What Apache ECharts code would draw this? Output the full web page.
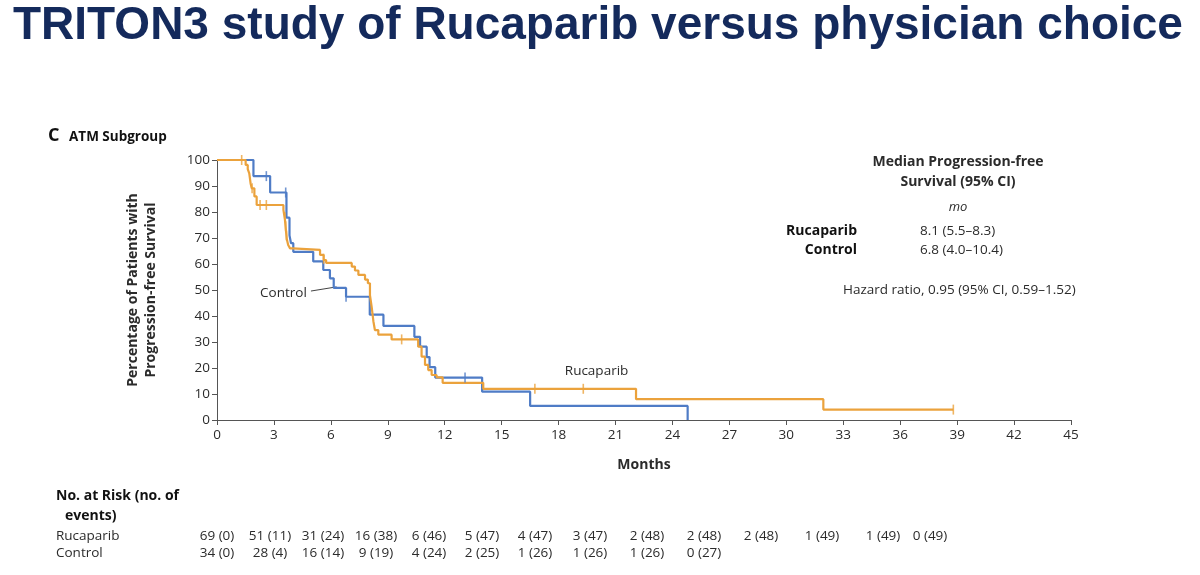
<!DOCTYPE html>
<html>
<head>
<meta charset="utf-8">
<script src="https://cdn.jsdelivr.net/npm/echarts@6/dist/echarts.min.js"></script>
<style>
    html, body { margin: 0; padding: 0; background: #fff; }
    #chart { width: 1200px; height: 575px; }
</style>
</head>
<body>
<div id="chart"></div>
<script>
// Kaplan-Meier steps: [months, % progression-free after the step]
const rucaparibSteps = [
    [0, 100], [1.51, 98.1], [1.62, 96.5], [1.7, 94.9], [1.77, 91], [1.83, 89.1], [1.97, 86], [2.09, 82.7],
    [3.5, 80.8], [3.58, 77], [3.63, 73], [3.68, 69.5], [3.75, 67.3], [3.85, 66], [4.0, 65.4],
    [5.43, 63.5], [5.62, 61.5], [5.75, 60.4], [7.1, 59], [7.27, 57.5], [7.45, 55.8], [7.8, 54],
    [7.95, 52.6], [8.06, 48], [8.15, 43.5], [8.24, 38], [8.32, 34.6], [8.5, 32.8], [9.2, 31],
    [10.6, 28.2], [10.78, 24.4], [10.96, 21.2], [11.13, 19.2], [11.31, 17.3], [11.57, 16.4],
    [11.89, 14.3], [14.03, 12], [22.08, 8], [31.95, 4], [38.8, 4]
];
const controlSteps = [
    [0, 100], [1.92, 93.8], [2.8, 87.5], [3.66, 77.8], [3.82, 71], [3.9, 68], [4.02, 64.7],
    [5.07, 61], [5.6, 57.7], [5.95, 54.5], [6.15, 50.8], [6.8, 47.4], [8.05, 40.5], [8.77, 36.2],
    [10.4, 32], [10.7, 28.2], [11.05, 24.2], [11.2, 20.3], [11.5, 16.3], [13.97, 10.9],
    [16.5, 5.4], [24.8, 0]
];
const rucaparibCensored = [
    [1.3, 100], [1.85, 89.1], [2.27, 82.7], [2.6, 82.7], [3.58, 78], [3.62, 74.5], [3.66, 71],
    [5.62, 62], [9.73, 31], [16.75, 12], [19.3, 12], [38.8, 4]
];
const controlCensored = [[2.6, 93.8], [3.62, 87.5], [6.8, 47.4], [13.07, 16.3]];

const riskRucaparib = ['69 (0)', '51 (11)', '31 (24)', '16 (38)', '6 (46)', '5 (47)', '4 (47)',
    '3 (47)', '2 (48)', '2 (48)', '2 (48)', '1 (49)', '1 (49)', '0 (49)'];
const riskControl = ['34 (0)', '28 (4)', '16 (14)', '9 (19)', '4 (24)', '2 (25)', '1 (26)',
    '1 (26)', '1 (26)', '0 (27)'];

const medianRows = [['Rucaparib', '8.1 (5.5\u20138.3)'], ['Control', '6.8 (4.0\u201310.4)']];
const hazardText = 'Hazard ratio, 0.95 (95% CI, 0.59\u20131.52)';

const ORANGE = '#EBA23C';
const BLUE = '#4F7CC6';
const FONT = 'Open Sans';
const TXT = '#2b2b2b';

// column centres of the at-risk table (they don't line up with the axis ticks)
const riskColX = [217, 270, 323, 376, 429, 482, 535, 590, 647, 704, 761, 822, 883, 930];

let chart = echarts.init(document.getElementById('chart'));

let graphics = [
    {
        type: 'text', left: 13, top: 3,
        style: { text: 'TRITON3 study of Rucaparib versus physician choice', fill: '#142a5c',
            font: 'bold 46px "Liberation Sans", Arial, sans-serif' }
    },
    { type: 'text', x: 48, y: 127, style: { text: 'C', fill: '#111', font: 'bold 18px "' + FONT + '"' } },
    { type: 'text', x: 69, y: 130, style: { text: 'ATM Subgroup', fill: '#111', font: 'bold 13.5px "' + FONT + '"' } },
    {
        type: 'text', x: 142, y: 290, rotation: Math.PI / 2,
        style: { text: 'Percentage of Patients with\nProgression-free Survival', fill: TXT, align: 'center',
            verticalAlign: 'middle', lineHeight: 18, font: 'bold 14px "' + FONT + '"' }
    },
    {
        type: 'text', x: 958, y: 172,
        style: { text: 'Median Progression-free\nSurvival (95% CI)', fill: TXT, align: 'center',
            verticalAlign: 'middle', lineHeight: 20, font: 'bold 14px "' + FONT + '"' }
    },
    { type: 'text', x: 958, y: 207, style: { text: 'mo', fill: TXT, align: 'center', verticalAlign: 'middle', font: 'italic 13px "' + FONT + '"' } },
    {
        type: 'text', x: 843, y: 290,
        style: { text: hazardText, fill: TXT, verticalAlign: 'middle', font: '13.5px "' + FONT + '"' }
    },
    { type: 'text', x: 56, y: 496, style: { text: 'No. at Risk (no. of', fill: '#111', verticalAlign: 'middle', font: 'bold 14px "' + FONT + '"' } },
    { type: 'text', x: 65, y: 516, style: { text: 'events)', fill: '#111', verticalAlign: 'middle', font: 'bold 14px "' + FONT + '"' } },
    { type: 'text', x: 56, y: 536, style: { text: 'Rucaparib', fill: TXT, verticalAlign: 'middle', font: '13.5px "' + FONT + '"' } },
    { type: 'text', x: 56, y: 553, style: { text: 'Control', fill: TXT, verticalAlign: 'middle', font: '13.5px "' + FONT + '"' } }
];

medianRows.forEach(function (row, i) {
    graphics.push({ type: 'text', x: 857, y: 231 + i * 19,
        style: { text: row[0], fill: '#111', align: 'right', verticalAlign: 'middle', font: 'bold 14px "' + FONT + '"' } });
    graphics.push({ type: 'text', x: 920, y: 231 + i * 19,
        style: { text: row[1], fill: TXT, verticalAlign: 'middle', font: '13.5px "' + FONT + '"' } });
});

[riskRucaparib, riskControl].forEach(function (row, r) {
    row.forEach(function (val, i) {
        graphics.push({ type: 'text', x: riskColX[i], y: 536 + r * 17,
            style: { text: val, fill: TXT, align: 'center', verticalAlign: 'middle', font: '13.5px "' + FONT + '"' } });
    });
});

let option = {
    animation: false,
    backgroundColor: '#fff',
    textStyle: { fontFamily: FONT },
    grid: { left: 217, right: 129, top: 160, bottom: 155 },
    xAxis: {
        type: 'value', min: 0, max: 45, interval: 3,
        name: 'Months', nameLocation: 'middle', nameGap: 38,
        nameTextStyle: { fontWeight: 'bold', fontSize: 14, color: TXT, fontFamily: FONT },
        axisLine: { lineStyle: { color: '#555', width: 1 } },
        axisTick: { length: 5, lineStyle: { color: '#555' } },
        axisLabel: { fontSize: 13.5, color: TXT, margin: 8, fontFamily: FONT },
        splitLine: { show: false }
    },
    yAxis: {
        type: 'value', min: 0, max: 100, interval: 10,
        axisLine: { show: true, lineStyle: { color: '#555', width: 1 } },
        axisTick: { show: true, length: 5, lineStyle: { color: '#555' } },
        axisLabel: { fontSize: 13.5, color: TXT, margin: 7, fontFamily: FONT },
        splitLine: { show: false }
    },
    series: [
        {
            name: 'Control', type: 'line', step: 'end', data: controlSteps, symbol: 'none',
            lineStyle: { color: BLUE, width: 2.2 }, z: 2
        },
        {
            name: 'Rucaparib', type: 'line', step: 'end', data: rucaparibSteps, symbol: 'none',
            lineStyle: { color: ORANGE, width: 2.2 }, z: 3
        },
        {
            type: 'scatter', data: controlCensored, symbol: 'rect', symbolSize: [1.6, 10],
            itemStyle: { color: BLUE }, z: 4
        },
        {
            type: 'scatter', data: rucaparibCensored, symbol: 'rect', symbolSize: [1.6, 10],
            itemStyle: { color: ORANGE }, z: 5
        }
    ],
    graphic: graphics
};

chart.setOption(option);

// curve labels, placed in data coordinates
let ctrlLabel = chart.convertToPixel({ gridIndex: 0 }, [3.5, 48.8]);
let leadFrom = chart.convertToPixel({ gridIndex: 0 }, [4.95, 49.6]);
let leadTo = chart.convertToPixel({ gridIndex: 0 }, [6.3, 51.2]);
let rucaLabel = chart.convertToPixel({ gridIndex: 0 }, [20.0, 18.8]);

graphics.push(
    { type: 'text', x: ctrlLabel[0], y: ctrlLabel[1],
        style: { text: 'Control', fill: TXT, align: 'center', verticalAlign: 'middle', font: '13.5px "' + FONT + '"' } },
    { type: 'line', shape: { x1: leadFrom[0], y1: leadFrom[1], x2: leadTo[0], y2: leadTo[1] },
        style: { stroke: '#444', lineWidth: 1 } },
    { type: 'text', x: rucaLabel[0], y: rucaLabel[1],
        style: { text: 'Rucaparib', fill: TXT, align: 'center', verticalAlign: 'middle', font: '13.5px "' + FONT + '"' } }
);
chart.setOption({ graphic: graphics });

window.addEventListener('resize', function () {
    chart.resize();
});
</script>
</body>
</html>
